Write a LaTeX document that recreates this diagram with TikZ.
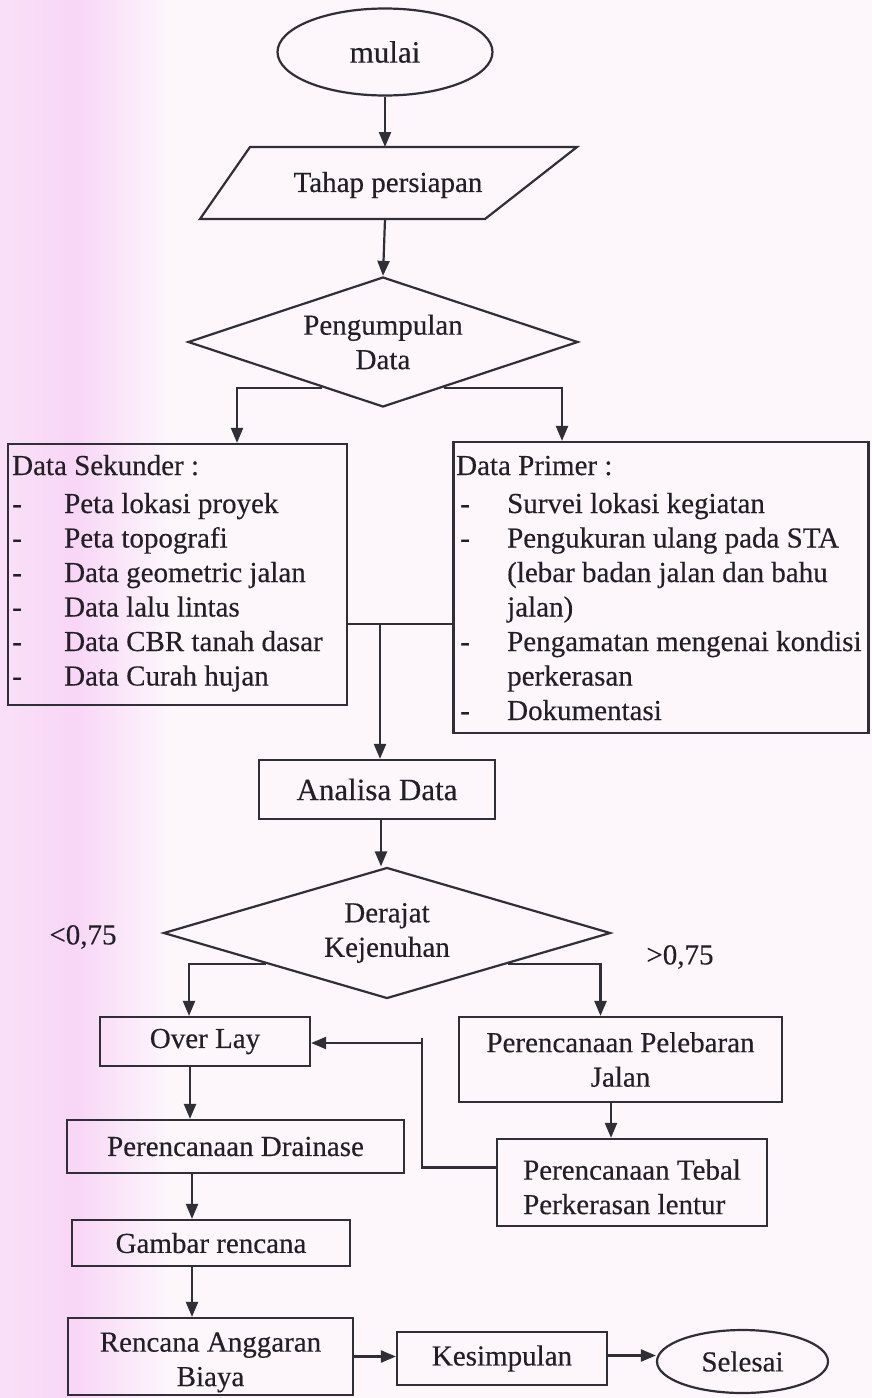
\documentclass[tikz,border=0pt]{standalone}
\usepackage{fontspec}
\setmainfont{Liberation Serif}[UprightFeatures={FakeBold=0.35}]
\usetikzlibrary{shapes.geometric,arrows.meta,calc}
\definecolor{ink}{RGB}{48,46,54}
\definecolor{txt}{RGB}{34,32,38}
\definecolor{bgc}{RGB}{253,247,252}
\definecolor{pinkA}{RGB}{248,214,246}
\definecolor{pinkL}{RGB}{249,224,248}
\tikzset{
  every node/.style={font=\fontsize{29}{34.5}\selectfont, text=txt},
  line/.style={draw=ink, line width=2.2pt},
  arr/.style={line, -{Triangle[length=15pt,width=12pt]}},
  box/.style={line, rectangle, inner sep=0pt, align=center, minimum width=#1},
  boxh/.style={minimum height=#1},
  oval/.style={line, ellipse, inner sep=0pt},
  dec/.style={line, diamond, inner sep=0pt, align=center},
  lbl/.style={inner sep=0pt}
}
\begin{document}
\begin{tikzpicture}[x=1pt,y=-1pt]
\useasboundingbox (0,0) rectangle (872,1398);
\fill[bgc] (0,0) rectangle (872,1398);
\shade[left color=pinkL, right color=pinkA] (0,0) rectangle (75,1398);
\shade[left color=pinkA, right color=bgc] (75,0) rectangle (170,1398);

% start
\node[oval, minimum width=215pt, minimum height=87pt] (mulai) at (385,52) {\fontsize{31}{36}\selectfont mulai};

% preparation (parallelogram)
\draw[line, line join=miter] (250,147) -- (577,147) -- (485,219) -- (200,219) -- cycle;
\node[lbl] (tahap) at (388,185) {Tahap persiapan};
\coordinate (tahapT) at (385,147);
\coordinate (tahapB) at (385,219);

% data collection
\node[dec, aspect=3, minimum width=390pt, minimum height=130pt] (peng) at (383,342) {Pengumpulan\\Data};

% secondary / primary data boxes
\node[box=339pt, boxh=261pt] (sek) at (177.5,574.5) {};
\node[lbl, anchor=base west] (sektxt) at (12,475) {\begin{tabular}[t]{@{}p{52pt}@{}l@{}}
\multicolumn{2}{@{}l@{}}{Data Sekunder :}\\[3.5pt]
- & Peta lokasi proyek\\
- & Peta topografi\\
- & Data geometric jalan\\
- & Data lalu lintas\\
- & Data CBR tanah dasar\\
- & Data Curah hujan
\end{tabular}};

\node[box=415pt, boxh=291pt] (prim) at (661,587.5) {};
\node[lbl, anchor=base west] (primtxt) at (456,475) {\begin{tabular}[t]{@{}p{51pt}@{}l@{}}
\multicolumn{2}{@{}l@{}}{Data Primer :}\\[3.5pt]
\hspace{4pt}- & Survei lokasi kegiatan\\
\hspace{4pt}- & Pengukuran ulang pada STA\\
 & (lebar badan jalan dan bahu\\
 & jalan)\\
\hspace{4pt}- & Pengamatan mengenai kondisi\\
 & perkerasan\\
\hspace{4pt}- & Dokumentasi
\end{tabular}};

% analysis
\node[box=236pt, boxh=59pt] (ana) at (377,789.5) {\fontsize{31}{36}\selectfont Analisa Data};

% degree of saturation
\node[dec, aspect=3.4, minimum width=447pt, minimum height=131pt] (der) at (387,933) {Derajat\\Kejenuhan};
\node[lbl] (lo) at (83,937) {<0,75};
\node[lbl] (hi) at (680,957) {>0,75};

% left branch
\node[box=210pt, boxh=49pt] (ov) at (205,1041.5) {Over Lay};
\node[box=337pt, boxh=53pt] (drain) at (235.5,1146.5) {Perencanaan Drainase};
\node[box=278pt, boxh=46pt] (gamb) at (211,1243) {Gambar rencana};
\node[box=285pt, boxh=77pt] (rab) at (210.5,1356.5) {\rule{0pt}{31pt}Rencana Anggaran\\Biaya};
\node[box=210pt, boxh=53pt] (kes) at (502,1358.5) {Kesimpulan};
\node[oval, minimum width=171pt, minimum height=63pt] (sel) at (742.5,1361.5) {Selesai};

% right branch
\node[box=323pt, boxh=85pt] (pel) at (620.5,1059.5) {Perencanaan Pelebaran\\Jalan};
\node[box=270pt, boxh=87pt, align=left] (teb) at (632,1182.5) {\rule{0pt}{29pt}Perencanaan Tebal\\Perkerasan lentur};

% connectors
\draw[arr] (mulai.south) -- (tahapT);
\draw[arr] (tahapB) -- (peng.north);
\draw[arr] ($(peng.west)!0.69!(peng.south)$) -| ([xshift=59.5pt]sek.north);
\draw[arr] ($(peng.east)!0.69!(peng.south)$) -| ([xshift=-99pt]prim.north);
\coordinate (j) at (380,624);
\draw[line] (sek.east |- j) -- (prim.west |- j);
\draw[arr] (j) -- (j |- ana.north);
\draw[arr] ([xshift=4pt]ana.south) -- ([xshift=4pt]ana.south |- der.north);
\draw[arr] ($(der.west)!0.46!(der.south)$) -| ([xshift=-16pt]ov.north);
\draw[arr] ($(der.east)!0.46!(der.south)$) -| ([xshift=-20pt]pel.north);
\draw[arr] ([xshift=-9.5pt]pel.south) -- ([xshift=-9.5pt]pel.south |- teb.north);
\coordinate (fb) at (422,1043);
\draw[line] ([yshift=15pt]teb.west) -| ([yshift=5pt]fb);
\draw[arr] (fb) -- (ov.east |- fb);
\draw[arr] ([xshift=-15pt]ov.south) -- ([xshift=-15pt]ov.south |- drain.north);
\draw[arr] ([xshift=-19pt]gamb.north |- drain.south) -- ([xshift=-19pt]gamb.north);
\draw[arr] ([xshift=-19pt]gamb.south) -- ([xshift=-19pt]gamb.south |- rab.north);
\draw[arr] ([yshift=0pt]rab.east) -- (rab.east -| kes.west);
\draw[arr] ([yshift=3pt]kes.east) -- ([yshift=3pt]kes.east -| sel.west);
\end{tikzpicture}
\end{document}
